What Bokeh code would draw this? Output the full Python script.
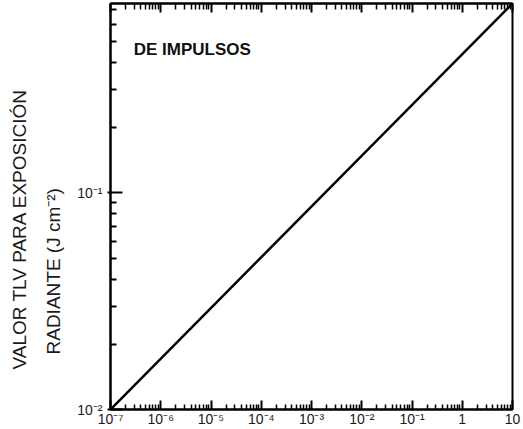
from bokeh.plotting import figure
from bokeh.models import LogAxis, FixedTicker, Title, Label, Range1d, CustomJSTickFormatter
from bokeh.embed import file_html
from bokeh.resources import INLINE

# --- data ---
x_ticks = [1e-7, 1e-6, 1e-5, 1e-4, 1e-3, 1e-2, 1e-1, 1, 10]
x_labels = ["10⁻⁷", "10⁻⁶", "10⁻⁵", "10⁻⁴", "10⁻³", "10⁻²", "10⁻¹", "1", "10"]
y_ticks = [0.01, 0.1]
y_labels = ["10⁻²", "10⁻¹"]
line_x = [1e-7, 10]
line_y = [0.01, 0.75]
x_lim = (1e-7, 10)
y_lim = (0.01, 0.75)

x_minor = [m * 10.0 ** e for e in range(-7, 1) for m in range(2, 10)]
y_minor = [m * 10.0 ** e for e in range(-2, 0) for m in range(2, 10)]

FONT = "Liberation Sans"

def fmt(tv, tl):
    return CustomJSTickFormatter(args=dict(tvals=tv, tlabels=tl), code="""
        let best = 0, bd = 1e9;
        for (let i = 0; i < tvals.length; i++) {
            const d = Math.abs(Math.log10(tick) - Math.log10(tvals[i]));
            if (d < bd) { bd = d; best = i; }
        }
        return bd < 0.01 ? tlabels[best] : " ";
    """)

p = figure(width=523, height=429, x_axis_type="log", y_axis_type="log",
           x_range=Range1d(*x_lim), y_range=Range1d(*y_lim),
           output_backend="svg", toolbar_location=None,
           min_border_left=110, min_border_right=11, min_border_top=3, min_border_bottom=0)

p.xgrid.visible = False
p.ygrid.visible = False
p.outline_line_color = "black"
p.outline_line_width = 2
p.background_fill_color = "white"
p.border_fill_color = "white"

xa = p.xaxis[0]
xa.ticker = FixedTicker(ticks=x_ticks, minor_ticks=x_minor)
xa.formatter = fmt(x_ticks, x_labels)
xa.major_tick_in = 9
xa.major_tick_out = 0
xa.minor_tick_in = 5
xa.minor_tick_out = 0
xa.axis_line_width = 2
xa.major_tick_line_width = 2
xa.minor_tick_line_width = 1.5
xa.major_tick_line_color = "black"
xa.minor_tick_line_color = "black"
xa.major_label_standoff = 1
xa.major_label_text_font = FONT
xa.major_label_text_font_size = "14px"
xa.major_label_text_color = "#1a1a1a"

ya = p.yaxis[0]
ya.ticker = FixedTicker(ticks=y_ticks, minor_ticks=y_minor)
ya.formatter = fmt(y_ticks, y_labels)
ya.major_tick_in = 12
ya.major_tick_out = 3
ya.minor_tick_in = 6
ya.minor_tick_out = 0
ya.axis_line_width = 2
ya.major_tick_line_width = 2
ya.minor_tick_line_width = 2
ya.major_tick_line_color = "black"
ya.minor_tick_line_color = "black"
ya.major_label_standoff = 5
ya.major_label_text_font = FONT
ya.major_label_text_font_size = "14px"
ya.major_label_text_color = "#1a1a1a"

top = LogAxis(ticker=FixedTicker(ticks=x_ticks, minor_ticks=x_minor),
              major_tick_in=9, major_tick_out=0, minor_tick_in=6, minor_tick_out=0,
              major_label_text_font_size="2px", major_label_text_alpha=0,
              major_label_standoff=0,
              axis_line_width=2, major_tick_line_width=2, minor_tick_line_width=1.5,
              major_tick_line_color="black", minor_tick_line_color="black")
p.add_layout(top, "above")

t2 = Title(text="RADIANTE (J cm⁻²)", align="left", offset=55, standoff=22,
           text_font=FONT, text_font_size="19px", text_font_style="normal",
           text_color="#1a1a1a")
t1 = Title(text="VALOR TLV PARA EXPOSICIÓN", align="left", offset=40, standoff=0,
           text_font=FONT, text_font_size="19px", text_font_style="normal",
           text_color="#1a1a1a")
p.add_layout(t2, "left")
p.add_layout(t1, "left")

p.line(line_x, line_y, line_color="black", line_width=2.5)

p.add_layout(Label(x=2.9e-7, y=0.46, text="DE IMPULSOS", text_font=FONT,
                   text_font_size="17px", text_font_style="bold", text_color="#111111",
                   text_baseline="alphabetic"))

open("out.html", "w").write(file_html(p, INLINE))
